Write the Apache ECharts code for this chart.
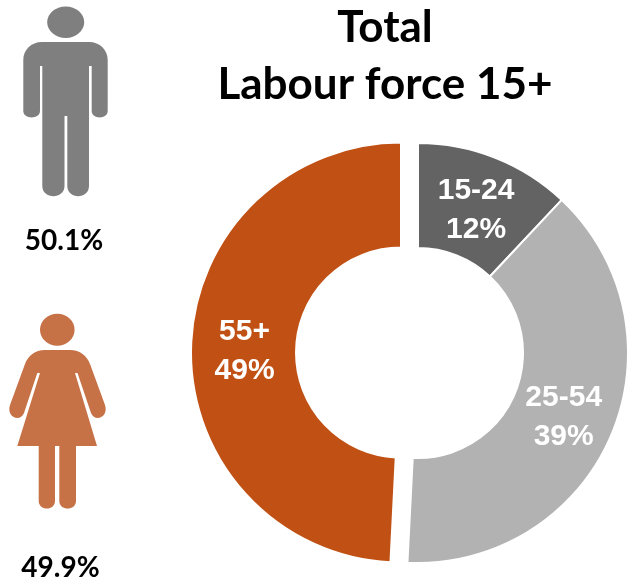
<!DOCTYPE html>
<html>
<head>
<meta charset="utf-8">
<style>
  html, body { margin: 0; padding: 0; background: #fff; }
  #main { width: 628px; height: 583px; }
</style>
</head>
<body>
<div id="main"></div>
<script src="https://cdn.jsdelivr.net/npm/echarts@6/dist/echarts.min.js"></script>
<script>
const titleLines = ["Total", "Labour force 15+"];
const ageGroups = ["15-24", "25-54", "55+"];
// labels show these rounded, the slice angles read a bit finer
const ageShares = [12, 38.8, 49.2];
const sliceColors = ["#636363", "#b2b2b2", "#c05013"];
const maleShare = "50.1%";
const femaleShare = "49.9%";

// pictograms, not data
const manPath = "M42 42 L89 42 C100 42 107.7 50 107.7 60 L107.7 111 C107.7 119.5 91.7 119.5 91.7 111 L91.7 66 L89 66 L89 186 C89 199.5 67.3 199.5 67.3 186 L67.3 116 L64.5 116 L64.5 186 C64.5 199.5 42.3 199.5 42.3 186 L42.3 66 L40 66 L40 111 C40 119.5 23.3 119.5 23.3 111 L23.3 60 C23.3 50 31 42 42 42 Z";
const womanPath = "M45 350 L70 350 C80 350 87 356 90 364 L105 405 C109 417 95 423 91 413 L77.5 373 L75 373 L97 446 L76 446 L76 501 C76 511 59.3 511 59.3 501 L59.3 446 L55 446 L55 501 C55 511 38.7 511 38.7 501 L38.7 446 L17.3 446 L40 373 L37.3 373 L24 413 C20 423 6 417 10 405 L25 364 C28 356 35 350 45 350 Z";
echarts.graphic.registerShape("manIcon", echarts.graphic.extendPath(manPath, {}));
echarts.graphic.registerShape("womanIcon", echarts.graphic.extendPath(womanPath, {}));

// small nudges so the labels sit where the original has them
const labelNudge = [[-1, 6], [-2, 1], [4, 3]];

const chart = echarts.init(document.getElementById("main"), null, { renderer: "canvas" });
chart.setOption({
  animation: false,
  backgroundColor: "#fff",
  title: {
    text: titleLines.join("\n"),
    left: 380,
    top: -6,
    textAlign: "center",
    textStyle: {
      fontFamily: "Lato",
      fontWeight: "bold",
      fontSize: 44,
      lineHeight: 57,
      color: "#000",
    },
  },
  graphic: [
    { type: "ellipse", shape: { cx: 65.7, cy: 22.3, rx: 18.5, ry: 15.7 }, style: { fill: "#7f7f7f" } },
    { type: "manIcon", style: { fill: "#7f7f7f" } },
    { type: "text", x: 64, y: 241, style: { text: maleShare, fontFamily: "Lato", fontWeight: "bold", fontSize: 28, fill: "#000", align: "center", verticalAlign: "middle" } },
    { type: "ellipse", shape: { cx: 57.3, cy: 329.7, rx: 17.3, ry: 16 }, style: { fill: "#c77146" } },
    { type: "womanIcon", style: { fill: "#c77146" } },
    { type: "text", x: 60.5, y: 568, style: { text: femaleShare, fontFamily: "Lato", fontWeight: "bold", fontSize: 28, fill: "#000", align: "center", verticalAlign: "middle" } },
  ],
  series: [
    {
      type: "pie",
      center: [418, 353],
      radius: [105, 210],
      startAngle: 90,
      clockwise: true,
      selectedMode: "single",
      selectedOffset: 17,
      itemStyle: { borderColor: "#fff", borderWidth: 2 },
      label: {
        show: true,
        position: "inside",
        formatter: function (p) {
          return p.name + "\n" + Math.round(p.value) + "%";
        },
        fontFamily: "Liberation Sans",
        fontWeight: "bold",
        fontSize: 30,
        lineHeight: 39,
        color: "#fff",
      },
      labelLine: { show: false },
      emphasis: { disabled: true },
      data: ageGroups.map(function (name, i) {
        return {
          name: name,
          value: ageShares[i],
          selected: name === "55+",
          itemStyle: { color: sliceColors[i] },
          label: { offset: labelNudge[i] },
          select: {
            itemStyle: { color: sliceColors[i] },
            label: { offset: labelNudge[i] },
          },
        };
      }),
    },
  ],
});
</script>
</body>
</html>
